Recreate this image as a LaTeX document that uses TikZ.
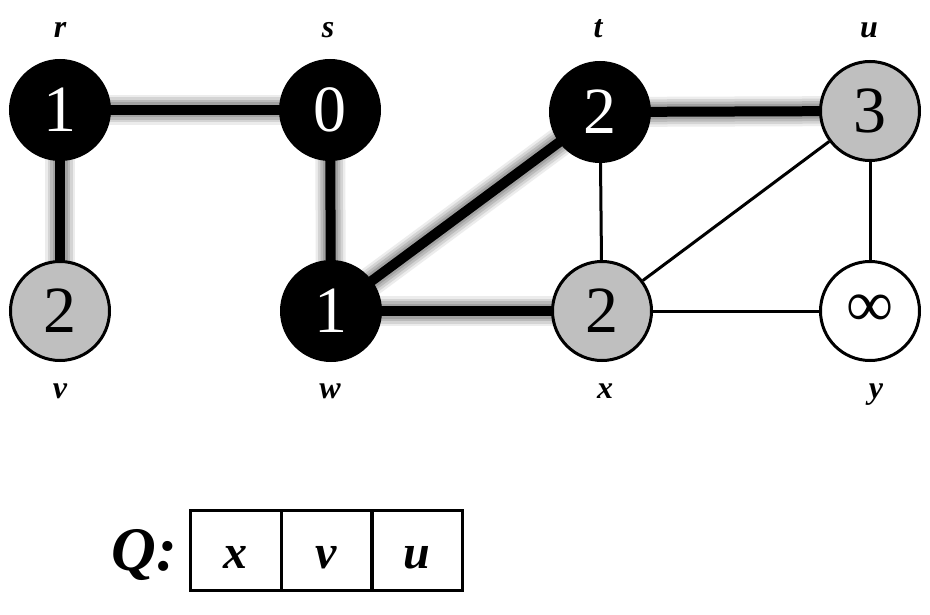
\documentclass[tikz,border=0pt]{standalone}
\usepackage{fontspec}
\setmainfont{Liberation Serif}
\usetikzlibrary{backgrounds}
\definecolor{vgray}{gray}{0.75}
\begin{document}
\begin{tikzpicture}[x=1pt,y=-1pt,
  vert/.style={circle,draw=black,line width=3pt,minimum size=99pt,inner sep=0pt,font=\fontsize{66}{66}\selectfont},
  blackv/.style={vert,fill=black,text=white},
  grayv/.style={vert,fill=vgray},
  whitev/.style={vert,fill=white},
  lbl/.style={anchor=base,inner sep=0pt,font=\fontsize{32}{32}\selectfont\bfseries\itshape},
  thinedge/.style={line width=3pt},
  treeedge/.style={line width=10pt,
    preaction={draw=gray,opacity=0.15,line width=30pt},
    preaction={draw=gray,opacity=0.22,line width=25pt},
    preaction={draw=gray,opacity=0.3,line width=20pt},
    preaction={draw=gray,opacity=0.4,line width=15pt}},
  cell/.style={draw=black,line width=3pt,minimum width=91pt,minimum height=80pt,inner sep=0pt,
    text height=36pt,text depth=0pt,font=\fontsize{48}{48}\selectfont\bfseries\itshape}
]
\useasboundingbox (0,0) rectangle (930,615);

\node[blackv] (r) at (60,110) {1};
\node[blackv] (s) at (330,110) {0};
\node[blackv] (t) at (600,112) {2};
\node[grayv]  (u) at (870,111) {3};
\node[grayv]  (v) at (60,311) {2};
\node[blackv] (w) at (331,311) {1};
\node[grayv]  (x) at (602,311) {2};
\node[whitev] (y) at (870,311) {∞};

\begin{pgfonlayer}{background}
  \fill[white] (0,0) rectangle (930,615);
  \draw[treeedge] (r.center) -- (s.center);
  \draw[treeedge] (r.center) -- (v.center);
  \draw[treeedge] (s.center) -- (w.center);
  \draw[treeedge] (w.center) -- (t.center);
  \draw[treeedge] (w.center) -- (x.center);
  \draw[treeedge] (t.center) -- (u.center);
  \draw[thinedge] (t) -- (x);
  \draw[thinedge] (x) -- (u);
  \draw[thinedge] (x) -- (y);
  \draw[thinedge] (u) -- (y);
\end{pgfonlayer}

\node[lbl] (lr) at (60,38) {r};
\node[lbl] (ls) at (328,38) {s};
\node[lbl] (lt) at (598,38) {t};
\node[lbl] (lu) at (869,38) {u};
\node[lbl] (lv) at (60,398) {v};
\node[lbl] (lw) at (330,398) {w};
\node[lbl] (lx) at (605,398) {x};
\node[lbl] (ly) at (876,398) {y};

\node[anchor=base,inner sep=0pt,font=\fontsize{62}{62}\selectfont\bfseries\itshape] (q) at (144,570) {Q:};
\node[cell] (c1) at (235.5,550) {x};
\node[cell] (c2) at (326.5,550) {v};
\node[cell] (c3) at (417,550) {u};
\end{tikzpicture}
\end{document}
